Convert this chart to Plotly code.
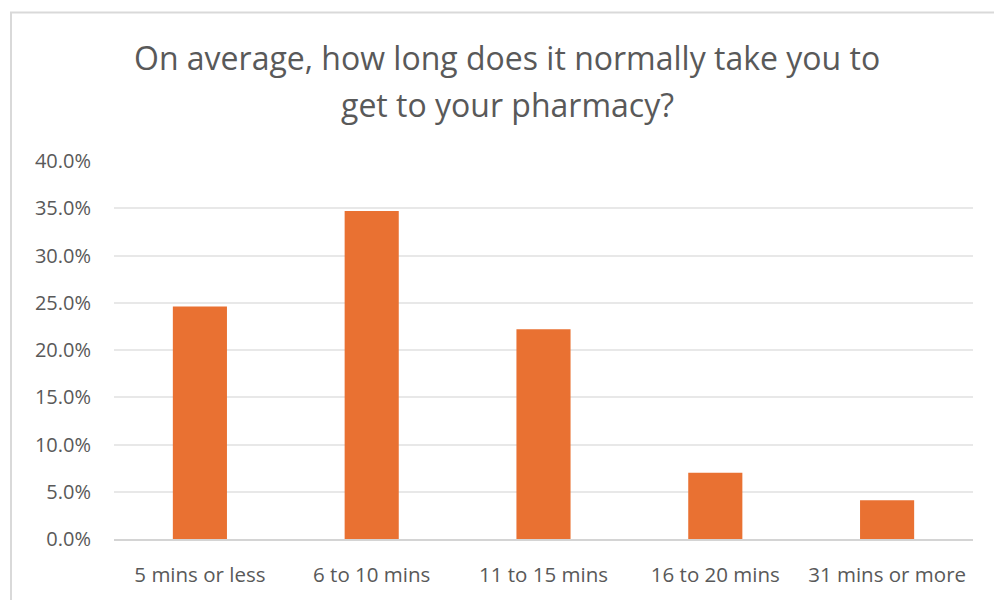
import plotly.graph_objects as go

# Survey results: travel time to the pharmacy
categories = ["5 mins or less", "6 to 10 mins", "11 to 15 mins", "16 to 20 mins", "31 mins or more"]
shares = [0.246, 0.347, 0.222, 0.070, 0.041]
y_ticks = [0.0, 0.05, 0.10, 0.15, 0.20, 0.25, 0.30, 0.35, 0.40]
title_lines = ["On average, how long does it normally take you to", "get to your pharmacy?"]

W, H = 994, 600
ML, MR, MT, MB = 114, 21, 161, 57
PW, PH = W - ML - MR, H - MT - MB

def px_to_paper_x(px):
    return (px - ML) / PW

def px_to_paper_y(py):
    return (H - MB - py) / PH

TEXT = "#595959"
FONT = "'Open Sans', Lato, Roboto, sans-serif"

fig = go.Figure(
    go.Bar(
        x=categories,
        y=shares,
        marker=dict(color="#E97132", line=dict(width=0)),
        hoverinfo="x+y",
    )
)

fig.update_layout(
    width=W,
    height=H,
    margin=dict(l=ML, r=MR, t=MT, b=MB, pad=0),
    paper_bgcolor="white",
    plot_bgcolor="white",
    bargap=0.685,
    showlegend=False,
    font=dict(family=FONT, color=TEXT, size=20),
)

fig.update_yaxes(
    range=[0, 0.4],
    tickvals=y_ticks,
    tickformat=".1%",
    showgrid=True,
    gridcolor="#e8e8e8",
    gridwidth=1.5,
    zeroline=False,
    showline=False,
    ticks="",
    ticklabelstandoff=22,
    tickfont=dict(size=20, color=TEXT, family=FONT),
)
fig.update_xaxes(
    showline=True,
    linecolor="#d4d4d4",
    linewidth=2,
    ticks="",
    ticklabelstandoff=16,
    tickfont=dict(size=20.5, color=TEXT, family=FONT),
)

# Two-line chart title
for line, py in zip(title_lines, [56, 104]):
    fig.add_annotation(
        text=line,
        xref="paper", yref="paper",
        x=px_to_paper_x(507), y=px_to_paper_y(py),
        xanchor="center", yanchor="middle",
        showarrow=False,
        font=dict(family=FONT, size=32, color=TEXT),
    )

# Chart area border
fig.add_shape(
    type="rect",
    xref="paper", yref="paper",
    x0=px_to_paper_x(11), x1=px_to_paper_x(1010),
    y0=px_to_paper_y(620), y1=px_to_paper_y(11),
    line=dict(color="#d9d9d9", width=2),
    fillcolor="rgba(0,0,0,0)",
    layer="below",
)

fig.write_html("out.html")
